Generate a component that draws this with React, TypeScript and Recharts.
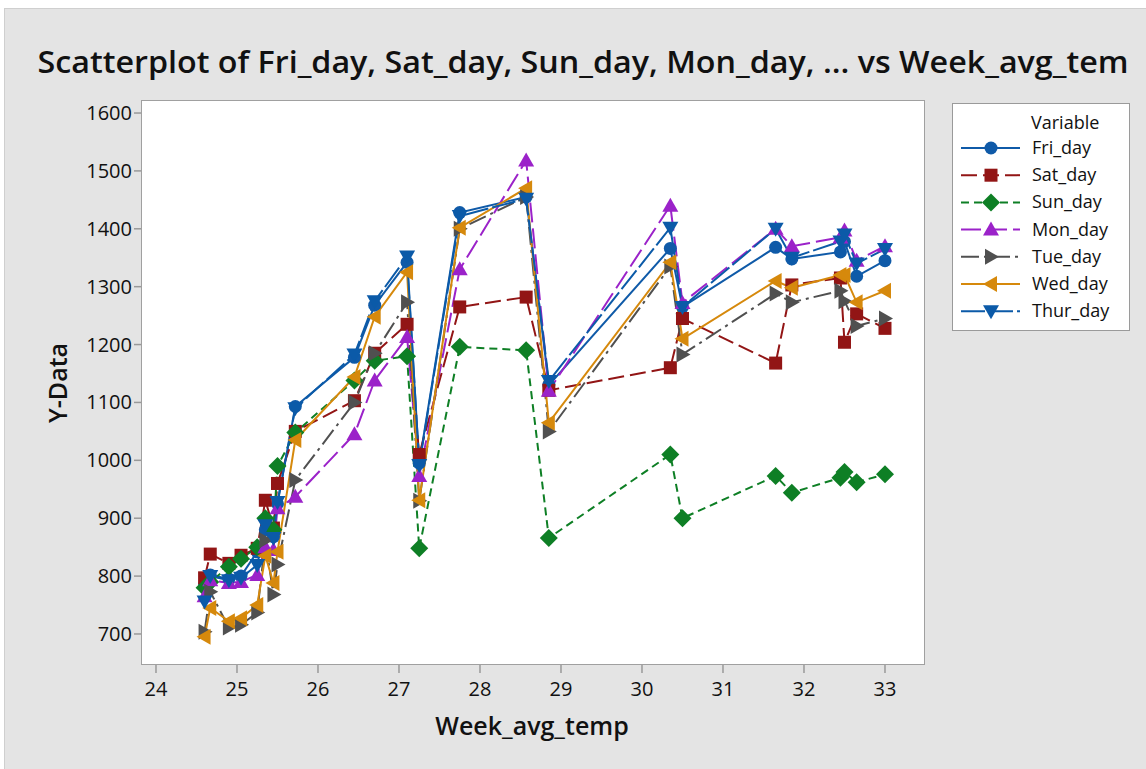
import React from 'react';
import { LineChart, Line, XAxis, YAxis, Legend, CartesianGrid } from 'recharts';

// ---- data ----
const weekAvgTemp = [24.6, 24.67, 24.9, 25.05, 25.25, 25.35, 25.45, 25.5, 25.72, 26.45, 26.7, 27.1, 27.25, 27.75, 28.57, 28.85, 30.35, 30.5, 31.65, 31.85, 32.45, 32.5, 32.65, 33.0];
const friDay = [785, 802, 795, 800, 842, 880, 868, 925, 1093, 1178, 1268, 1342, 995, 1428, 1455, 1130, 1366, 1265, 1368, 1348, 1360, 1378, 1318, 1345];
const satDay = [797, 838, 822, 836, 848, 931, 883, 960, 1050, 1103, 1185, 1235, 1010, 1265, 1282, 1121, 1160, 1245, 1168, 1303, 1315, 1204, 1253, 1228];
const sunDay = [780, 790, 816, 830, 850, 900, 880, 990, 1048, 1138, 1172, 1180, 848, 1196, 1190, 866, 1010, 900, 973, 944, 970, 980, 962, 976];
const monDay = [765, 793, 788, 790, 802, 850, 845, 917, 937, 1045, 1138, 1213, 973, 1330, 1518, 1120, 1440, 1272, 1400, 1370, 1385, 1397, 1345, 1370];
const tueDay = [704, 773, 711, 716, 737, 862, 768, 820, 966, 1100, 1185, 1273, 930, 1400, 1455, 1050, 1335, 1183, 1288, 1273, 1293, 1275, 1232, 1245];
const wedDay = [695, 745, 722, 727, 750, 835, 788, 842, 1035, 1144, 1248, 1325, 931, 1402, 1470, 1065, 1342, 1210, 1310, 1298, 1320, 1320, 1273, 1293];
const thurDay = [756, 800, 793, 797, 819, 888, 866, 928, 1090, 1183, 1275, 1352, 992, 1422, 1452, 1137, 1402, 1265, 1400, 1350, 1378, 1390, 1340, 1365];

const xTicks = [24, 25, 26, 27, 28, 29, 30, 31, 32, 33];
const yTicks = [700, 800, 900, 1000, 1100, 1200, 1300, 1400, 1500, 1600];

const seriesNames = ['Fri_day', 'Sat_day', 'Sun_day', 'Mon_day', 'Tue_day', 'Wed_day', 'Thur_day'];
const seriesValues = [friDay, satDay, sunDay, monDay, tueDay, wedDay, thurDay];

// ---- styles ----
const seriesStyles = [
  { color: '#0F5AA8', dash: undefined, shape: 'circle' },
  { color: '#921515', dash: '16 6', shape: 'square' },
  { color: '#0E7F25', dash: '8 5', shape: 'diamond' },
  { color: '#9B22C9', dash: '20 6', shape: 'up' },
  { color: '#505050', dash: '18 5 3 5', shape: 'right' },
  { color: '#D6890C', dash: undefined, shape: 'left' },
  { color: '#0B5AA8', dash: '24 4', shape: 'down' },
];

const FONT = "'Open Sans', 'Noto Sans', sans-serif";

const data = weekAvgTemp.map((x, i) => {
  const row: Record<string, number> = { x };
  seriesNames.forEach((n, k) => {
    row[n] = seriesValues[k][i];
  });
  return row;
});

function Marker({ shape, cx, cy, color }: { shape: string; cx: number; cy: number; color: string }) {
  switch (shape) {
    case 'circle':
      return <circle cx={cx} cy={cy} r={6.5} fill={color} />;
    case 'square':
      return <rect x={cx - 6.5} y={cy - 6.5} width={13} height={13} fill={color} />;
    case 'diamond':
      return <polygon points={`${cx},${cy - 9} ${cx + 9},${cy} ${cx},${cy + 9} ${cx - 9},${cy}`} fill={color} />;
    case 'up':
      return <polygon points={`${cx},${cy - 8} ${cx + 8},${cy + 6} ${cx - 8},${cy + 6}`} fill={color} />;
    case 'down':
      return <polygon points={`${cx - 8},${cy - 6} ${cx + 8},${cy - 6} ${cx},${cy + 8}`} fill={color} />;
    case 'right':
      return <polygon points={`${cx - 6},${cy - 8} ${cx + 8},${cy} ${cx - 6},${cy + 8}`} fill={color} />;
    case 'left':
      return <polygon points={`${cx + 6},${cy - 8} ${cx - 8},${cy} ${cx + 6},${cy + 8}`} fill={color} />;
    default:
      return <circle cx={cx} cy={cy} r={6} fill={color} />;
  }
}

const XTick = (props: any) => {
  const { x, y, payload } = props;
  return (
    <text x={x} y={y} dy={21} textAnchor="middle" fontSize={20} fontFamily={FONT} fill="#111">
      {payload.value}
    </text>
  );
};

const YTick = (props: any) => {
  const { x, y, payload } = props;
  return (
    <text x={x} y={y} dy={7} textAnchor="end" fontSize={20} fontFamily={FONT} fill="#111">
      {payload.value}
    </text>
  );
};

const LegendBox = () => (
  <div style={{ width: 178, height: 228, background: '#fff', border: '1px solid #9a9a9a', boxSizing: 'border-box' }}>
    <svg width={176} height={226} style={{ display: 'block' }}>
      <text x={78} y={25} fontSize={18} fontFamily={FONT} fill="#111">Variable</text>
      {seriesNames.map((n, k) => {
        const st = seriesStyles[k];
        const cy = 44 + k * 27.2;
        return (
          <g key={n}>
            <line x1={8} x2={67} y1={cy} y2={cy} stroke={st.color} strokeWidth={2} strokeDasharray={st.dash} />
            <Marker shape={st.shape} cx={38} cy={cy} color={st.color} />
            <text x={79} y={cy + 6} fontSize={18} fontFamily={FONT} fill="#111">{n}</text>
          </g>
        );
      })}
    </svg>
  </div>
);

export default function App() {
  return (
    <div style={{ position: 'absolute', left: 0, top: 0, width: 1146, height: 769, background: '#fff', overflow: 'hidden' }}>
      <div style={{ position: 'absolute', left: 4, top: 8, width: 1142, height: 761, background: '#E4E4E4', borderTop: '1px solid #cfcfcf', borderLeft: '1px solid #cfcfcf', boxSizing: 'border-box' }} />
      <div style={{ position: 'absolute', left: 0, top: 0 }}>
        <LineChart width={1146} height={769} data={data} margin={{ top: 100, right: 221, bottom: 0, left: 0 }}>
          <CartesianGrid fill="#fff" stroke="none" horizontal={false} vertical={false} />
          <XAxis
            type="number"
            dataKey="x"
            domain={[23.815, 33.494]}
            allowDataOverflow
            ticks={xTicks}
            height={104}
            tickSize={8}
            tickMargin={2}
            axisLine={false}
            tickLine={{ stroke: '#999', strokeWidth: 1.5 }}
            tick={<XTick />}
          />
          <YAxis
            type="number"
            domain={[646.4, 1622.5]}
            allowDataOverflow
            ticks={yTicks}
            width={141}
            tickSize={7}
            tickMargin={2}
            axisLine={false}
            tickLine={{ stroke: '#999', strokeWidth: 1.5 }}
            tick={<YTick />}
          />
          <Legend
            layout="horizontal"
            verticalAlign="middle"
            align="center"
            content={() => <LegendBox />}
            wrapperStyle={{ position: 'absolute', left: 952, top: 103, width: 178, height: 228 }}
          />
          {seriesNames.map((n, k) => {
            const st = seriesStyles[k];
            return (
              <Line
                key={n}
                name={n}
                dataKey={n}
                type="linear"
                stroke={st.color}
                strokeWidth={2}
                strokeDasharray={st.dash}
                isAnimationActive={false}
                activeDot={false}
                dot={(p: any) => <Marker key={`${n}-${p.index}`} shape={st.shape} cx={p.cx} cy={p.cy} color={st.color} />}
              />
            );
          })}
        </LineChart>
      </div>
      <div style={{ position: 'absolute', left: 141, top: 100, width: 784, height: 565, border: '1.5px solid #a0a0a0', boxSizing: 'border-box', pointerEvents: 'none' }} />
      <svg width={1146} height={769} style={{ position: 'absolute', left: 0, top: 0, pointerEvents: 'none' }}>
        <text x={583} y={73} textAnchor="middle" fontSize={30} fontWeight={600} fontFamily={FONT} fill="#111" textLength={1091} lengthAdjust="spacingAndGlyphs">
          Scatterplot of Fri_day, Sat_day, Sun_day, Mon_day, ... vs Week_avg_tem
        </text>
        <text x={532} y={735} textAnchor="middle" fontSize={25} fontWeight={600} fontFamily={FONT} fill="#111">
          Week_avg_temp
        </text>
        <text transform="translate(67,383) rotate(-90)" textAnchor="middle" fontSize={25} fontWeight={600} fontFamily={FONT} fill="#111">
          Y-Data
        </text>
      </svg>
    </div>
  );
}
